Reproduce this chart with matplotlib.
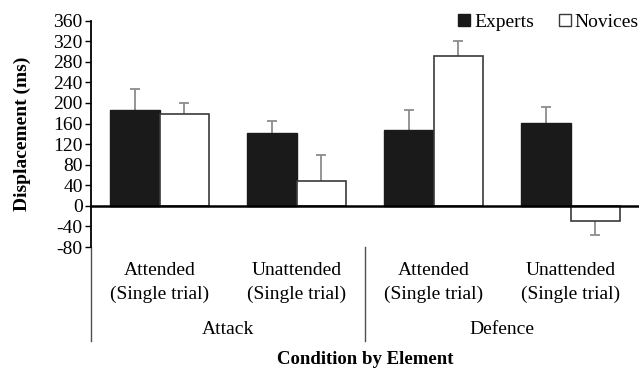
import numpy as np
import matplotlib
matplotlib.use('Agg')
import matplotlib.pyplot as plt
import matplotlib.transforms as mtransforms
from matplotlib.patches import Patch
from matplotlib.lines import Line2D

# data
conditions = ['Attended', 'Unattended', 'Attended', 'Unattended']
elements = ['Attack', 'Defence']
experts = [186, 142, 147, 162]
experts_err = [42, 23, 39, 30]
novices = [178, 49, 291, -29]
novices_err = [22, 49, 30, 27]
yticks = [-80, -40, 0, 40, 80, 120, 160, 200, 240, 280, 320, 360]

plt.rcParams['font.family'] = ['Liberation Serif', 'DejaVu Serif']
plt.rcParams['axes.unicode_minus'] = False

W, H = 639, 368
fig = plt.figure(figsize=(W / 100, H / 100), dpi=100)
ax = fig.add_axes([91 / W, (H - 247) / H, 548 / W, 226.3 / H])

x = np.arange(len(conditions))
bw = 0.362
black = '#1a1a1a'
err_col = '#8c8c8c'

ax.bar(x - bw / 2, experts, bw, color=black, edgecolor=black, lw=1, zorder=3)
ax.bar(x + bw / 2, novices, bw, color='white', edgecolor='#3a3a3a', lw=1.2, zorder=3)

# one-sided error bars (away from zero), cap only at the far end
for xs, vals, errs in [(x - bw / 2, experts, experts_err), (x + bw / 2, novices, novices_err)]:
    vals = np.array(vals)
    errs = np.array(errs)
    lo = np.where(vals < 0, errs, 0)
    hi = np.where(vals >= 0, errs, 0)
    ax.errorbar(xs, vals, yerr=[lo, hi], fmt='none', ecolor=err_col,
                elinewidth=1.3, capsize=0, zorder=2)
    ends = np.where(vals < 0, vals - errs, vals + errs)
    ax.plot(xs, ends, ls='none', marker='_', ms=7, mew=1.3, color=err_col, zorder=2)

ax.axhline(0, color='black', lw=1.8, zorder=4, clip_on=False)

ax.set_xlim(-0.5, 3.5)
ax.set_ylim(-80, 360)
ax.set_yticks(yticks)
ax.set_xticks([])
ax.tick_params(axis='y', direction='out', length=4, width=1, labelsize=14, pad=2)
for s in ['top', 'right', 'bottom']:
    ax.spines[s].set_visible(False)
ax.spines['left'].set_linewidth(1.3)

# multi-level category axis below the plot
tr = mtransforms.blended_transform_factory(ax.transData, fig.transFigure)
def fy(py):
    return (H - py) / H

for i, c in enumerate(conditions):
    ax.text(i, fy(270.7), c, transform=tr, ha='center', va='center', fontsize=14)
    ax.text(i, fy(294), '(Single trial)', transform=tr, ha='center', va='center', fontsize=14)
for j, e in enumerate(elements):
    ax.text(2 * j + 0.5, fy(330), e, transform=tr, ha='center', va='center', fontsize=14)

for xs in [-0.5, 1.5]:
    ax.add_line(Line2D([xs, xs], [fy(247), fy(341)], transform=tr, color='#505050',
                       lw=1, clip_on=False))

fig.text(365 / W, fy(360), 'Condition by Element', ha='center', va='center',
         fontsize=13.5, fontweight='bold')
fig.text(22 / W, fy(134), 'Displacement (ms)', ha='center', va='center',
         rotation=90, fontsize=14, fontweight='bold')

handles = [Patch(facecolor=black, edgecolor=black),
           Patch(facecolor='white', edgecolor='#3a3a3a')]
fig.legend(handles, ['Experts', 'Novices'], loc='upper right', bbox_to_anchor=(1.018, 0.995),
           ncol=2, frameon=False, fontsize=14, handlelength=0.6, handleheight=0.6,
           handletextpad=0.2, columnspacing=1.3, borderaxespad=0.2)

fig.savefig('out.png', dpi=100)
